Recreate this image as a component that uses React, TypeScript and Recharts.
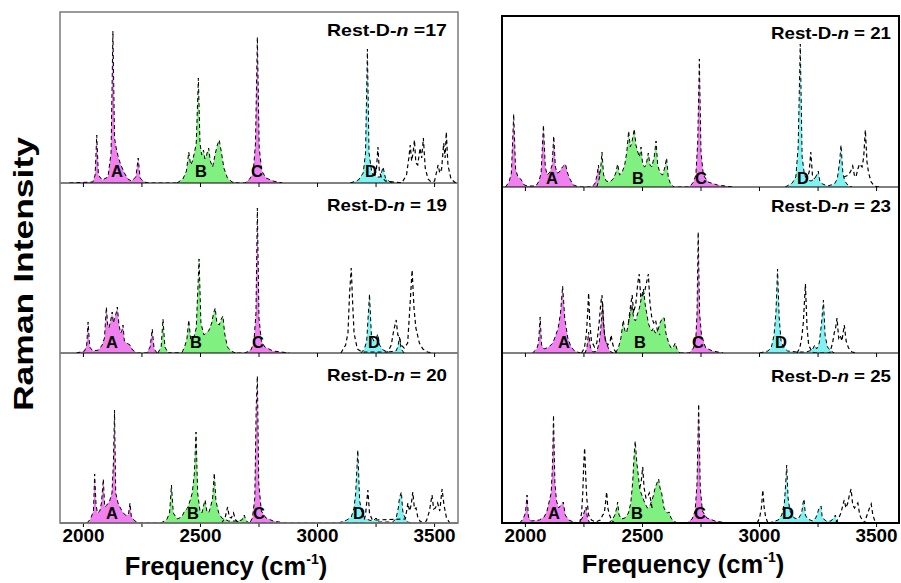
import React from 'react';
import { ComposedChart, Area, Line, XAxis, YAxis } from 'recharts';

type Pt = [number, number | null];

const xTicks = [2000, 2250, 2500, 2750, 3000, 3250, 3500];
const xDomain: [number, number] = [1900, 3600];

// ---------- Rest-D-n = 17 ----------
const n17Magenta: Pt[] = [[1940,0],[2040,1],[2050,8],[2057,48],[2064,8],[2080,3],[2105,6],[2118,30],[2126,152],[2133,45],[2140,35],[2150,25],[2160,18],[2175,10],[2190,4],[2205,2],[2224,6],[2234,25],[2242,5],[2260,1],[2280,0],[2690,0],[2710,4],[2725,10],[2735,40],[2743,146],[2751,35],[2762,12],[2780,5],[2810,2],[2850,0]];
const n17Green: Pt[] = [[2400,0],[2425,4],[2440,12],[2450,31],[2458,18],[2466,22],[2474,30],[2482,40],[2491,105],[2498,40],[2505,28],[2513,33],[2519,24],[2526,28],[2535,35],[2542,22],[2552,16],[2562,28],[2572,38],[2580,43],[2590,30],[2600,15],[2615,5],[2635,1],[2660,0]];
const n17Cyan: Pt[] = [[3140,0],[3175,3],[3195,10],[3205,30],[3213,134],[3220,30],[3232,10],[3250,6],[3268,6],[3280,16],[3290,5],[3310,1],[3330,0]];
const n17Dashed: Pt[] = [[3245,7],[3252,15],[3258,36],[3264,12],[3272,6],[3290,2],[3360,0],[3380,8],[3390,25],[3396,38],[3402,22],[3408,30],[3414,43],[3420,20],[3428,18],[3438,35],[3445,25],[3452,45],[3460,15],[3472,4],[3485,1],[3500,2],[3515,18],[3522,10],[3530,14],[3539,40],[3545,25],[3550,51],[3557,18],[3570,4],[3590,0]];

// ---------- Rest-D-n = 19 ----------
const n19Magenta: Pt[] = [[1970,0],[2005,2],[2014,8],[2020,31],[2027,6],[2040,2],[2065,3],[2080,8],[2090,15],[2098,46],[2104,28],[2109,25],[2116,32],[2123,41],[2128,30],[2133,35],[2140,40],[2145,46],[2152,28],[2159,20],[2164,22],[2169,28],[2175,12],[2185,10],[2199,8],[2210,3],[2230,0],[2270,0],[2285,6],[2294,24],[2302,4],[2315,0],[2690,0],[2715,3],[2728,10],[2737,40],[2743,145],[2750,35],[2760,12],[2775,6],[2810,2],[2880,0]];
const n19Green: Pt[] = [[2318,0],[2332,6],[2340,34],[2348,6],[2362,0],[2420,0],[2432,6],[2442,14],[2450,33],[2458,14],[2470,14],[2482,25],[2494,94],[2502,30],[2515,18],[2535,22],[2548,30],[2556,40],[2563,45],[2570,30],[2580,28],[2589,34],[2596,37],[2603,20],[2615,6],[2630,2],[2650,0]];
const n19Cyan: Pt[] = [[3185,0],[3200,4],[3210,12],[3222,59],[3230,18],[3240,12],[3250,14],[3257,19],[3265,8],[3280,3],[3300,1],[3335,2],[3343,6],[3350,16],[3357,4],[3370,0]];
const n19Dashed: Pt[] = [[3100,0],[3120,8],[3130,20],[3137,60],[3144,85],[3150,50],[3156,20],[3170,4],[3190,1],[3300,1],[3315,8],[3325,22],[3336,33],[3343,18],[3350,16],[3357,8],[3370,5],[3385,10],[3393,40],[3404,83],[3412,45],[3420,25],[3435,10],[3450,4],[3470,1],[3490,0]];

// ---------- Rest-D-n = 20 ----------
const n20Magenta: Pt[] = [[2015,0],[2030,4],[2043,12],[2048,49],[2054,18],[2060,10],[2070,12],[2077,20],[2085,44],[2091,16],[2100,18],[2112,22],[2122,30],[2128,60],[2133,113],[2138,30],[2148,20],[2158,15],[2170,10],[2180,8],[2192,8],[2199,20],[2205,6],[2220,2],[2240,0],[2710,0],[2722,5],[2732,25],[2738,116],[2743,147],[2749,40],[2760,12],[2780,5],[2811,2],[2860,0]];
const n20Green: Pt[] = [[2330,0],[2355,3],[2368,10],[2376,38],[2384,10],[2400,4],[2420,6],[2432,12],[2445,15],[2455,22],[2465,30],[2474,50],[2481,91],[2488,30],[2498,12],[2506,10],[2514,18],[2520,23],[2527,12],[2535,10],[2545,18],[2552,25],[2559,50],[2566,22],[2578,10],[2591,5],[2620,2],[2660,2],[2677,3],[2687,8],[2695,2],[2710,0]];
const n20Cyan: Pt[] = [[3090,0],[3125,3],[3144,6],[3156,15],[3163,30],[3172,73],[3180,22],[3190,10],[3201,5],[3220,3],[3236,2],[3250,5],[3262,1],[3320,1],[3335,4],[3345,15],[3350,25],[3358,31],[3364,12],[3372,6],[3385,1],[3400,0]];
const n20Dashed: Pt[] = [[2590,0],[2605,5],[2616,16],[2623,6],[2632,5],[2641,10],[2650,3],[2665,0],[3195,0],[3205,8],[3215,33],[3222,10],[3232,4],[3245,3],[3375,4],[3386,20],[3393,12],[3400,18],[3407,31],[3414,14],[3421,15],[3428,6],[3440,1],[3465,2],[3478,12],[3489,28],[3496,14],[3503,15],[3513,20],[3522,12],[3532,34],[3540,18],[3551,5],[3565,0]];

// ---------- Rest-D-n = 21 ----------
const n21Magenta: Pt[] = [[1915,0],[1930,5],[1940,14],[1950,73],[1958,18],[1968,10],[1980,8],[1995,2],[2010,1],[2045,1],[2058,6],[2067,14],[2077,62],[2085,20],[2093,12],[2105,15],[2114,22],[2121,51],[2128,20],[2136,14],[2145,15],[2158,20],[2171,23],[2180,14],[2190,8],[2205,2],[2230,0],[2285,0],[2298,4],[2306,12],[2312,22],[2318,8],[2322,3],[2335,0],[2700,0],[2718,5],[2728,12],[2736,45],[2743,128],[2750,35],[2760,12],[2780,5],[2820,2],[2885,0]];
const n21Green: Pt[] = [[2305,0],[2315,8],[2322,20],[2327,35],[2334,12],[2345,6],[2360,5],[2375,8],[2386,14],[2394,23],[2402,12],[2412,14],[2424,22],[2433,35],[2441,56],[2448,40],[2455,45],[2465,58],[2472,42],[2480,35],[2487,30],[2494,40],[2501,22],[2510,20],[2518,25],[2525,34],[2532,22],[2540,20],[2550,30],[2558,46],[2565,22],[2575,14],[2586,12],[2596,20],[2603,29],[2610,10],[2620,3],[2635,0]];
const n21Cyan: Pt[] = [[3110,0],[3140,4],[3155,10],[3165,40],[3174,143],[3182,30],[3192,12],[3205,7],[3220,6],[3235,8],[3244,12],[3251,16],[3258,5],[3270,3],[3290,1],[3320,3],[3332,8],[3342,25],[3348,42],[3356,14],[3364,6],[3380,1],[3395,0]];
const n21Dashed: Pt[] = [[3200,6],[3212,15],[3219,35],[3226,12],[3235,8],[3250,null],[3360,10],[3380,12],[3390,16],[3398,21],[3405,12],[3412,10],[3420,18],[3427,23],[3438,20],[3445,30],[3452,57],[3459,25],[3466,14],[3477,5],[3490,1],[3510,0]];

// ---------- Rest-D-n = 23 ----------
const n23Magenta: Pt[] = [[2030,0],[2048,4],[2056,10],[2063,36],[2069,8],[2080,4],[2100,6],[2117,10],[2130,18],[2140,25],[2150,40],[2159,67],[2168,35],[2181,15],[2195,6],[2210,2],[2235,0],[2255,0],[2263,6],[2270,21],[2278,5],[2290,1],[2305,2],[2315,10],[2322,25],[2330,51],[2337,20],[2345,10],[2360,2],[2375,0],[2700,0],[2718,5],[2728,15],[2733,40],[2738,121],[2744,40],[2752,18],[2770,5],[2800,2],[2845,0]];
const n23Green: Pt[] = [[2385,0],[2398,6],[2408,15],[2418,33],[2425,22],[2432,20],[2444,35],[2455,48],[2462,35],[2470,32],[2480,40],[2487,45],[2495,55],[2504,64],[2512,48],[2518,40],[2525,30],[2532,25],[2540,22],[2546,25],[2555,20],[2565,22],[2575,30],[2585,35],[2593,35],[2600,20],[2612,10],[2622,5],[2630,5],[2640,10],[2647,4],[2660,0]];
const n23Cyan: Pt[] = [[3000,0],[3035,2],[3050,5],[3062,18],[3070,40],[3077,84],[3084,35],[3092,12],[3105,5],[3120,2],[3160,1],[3200,1],[3225,3],[3236,8],[3244,4],[3255,10],[3265,30],[3273,53],[3280,18],[3290,6],[3305,2],[3320,0]];
const n23Dashed: Pt[] = [[2240,0],[2252,5],[2260,18],[2266,40],[2270,60],[2275,30],[2282,12],[2295,6],[2305,10],[2315,30],[2322,50],[2327,58],[2333,30],[2342,12],[2352,8],[2362,12],[2366,18],[2372,10],[2380,3],[2390,0],[2420,null],[2440,30],[2448,45],[2456,58],[2462,40],[2472,50],[2480,70],[2486,79],[2493,55],[2500,58],[2508,60],[2517,70],[2525,79],[2532,50],[2540,35],[2548,30],[2556,33],[2564,22],[2575,18],[2600,null],[3160,0],[3172,5],[3180,15],[3187,30],[3196,69],[3203,25],[3210,8],[3222,2],[3235,0],[3300,0],[3312,10],[3319,20],[3325,25],[3331,35],[3338,15],[3344,18],[3352,12],[3362,28],[3370,12],[3380,5],[3395,1],[3415,0]];

// ---------- Rest-D-n = 25 ----------
const n25Magenta: Pt[] = [[1975,0],[1990,4],[2000,10],[2007,28],[2013,6],[2025,2],[2060,3],[2080,6],[2092,12],[2100,20],[2110,30],[2116,60],[2120,108],[2126,40],[2133,22],[2142,15],[2152,18],[2162,21],[2170,8],[2185,3],[2205,1],[2230,0],[2245,6],[2250,10],[2255,14],[2259,16],[2265,5],[2275,0],[2690,0],[2712,4],[2725,12],[2733,40],[2740,119],[2747,35],[2756,12],[2775,5],[2810,2],[2860,0]];
const n25Green: Pt[] = [[2355,0],[2370,3],[2382,8],[2390,15],[2394,21],[2400,8],[2410,4],[2425,5],[2440,10],[2450,20],[2458,40],[2465,70],[2469,82],[2476,60],[2481,50],[2488,35],[2494,30],[2502,25],[2510,20],[2521,15],[2530,16],[2536,20],[2545,26],[2554,35],[2562,40],[2569,44],[2575,35],[2582,30],[2592,15],[2599,12],[2606,10],[2614,11],[2622,5],[2632,2],[2650,0]];
const n25Cyan: Pt[] = [[3040,0],[3080,3],[3095,8],[3106,20],[3112,40],[3116,58],[3122,25],[3130,12],[3148,5],[3165,4],[3180,10],[3186,20],[3190,24],[3196,8],[3205,4],[3228,2],[3240,5],[3248,10],[3253,14],[3263,17],[3268,5],[3285,2],[3305,2],[3316,5],[3324,8],[3330,2],[3340,0]];
const n25Dashed: Pt[] = [[2232,0],[2240,10],[2245,30],[2249,58],[2253,75],[2258,45],[2262,25],[2270,8],[2282,3],[2300,1],[2320,3],[2330,8],[2337,10],[2343,22],[2347,31],[2352,15],[2359,8],[2368,3],[2380,0],[2420,null],[2488,35],[2494,40],[2501,56],[2507,35],[2515,25],[2522,26],[2529,30],[2536,22],[2541,15],[2600,null],[2990,0],[3000,5],[3008,15],[3014,33],[3020,15],[3026,6],[3036,0],[3200,null],[3325,0],[3340,6],[3348,10],[3356,18],[3362,23],[3369,15],[3377,20],[3384,28],[3391,34],[3398,18],[3406,15],[3413,18],[3420,20],[3428,8],[3434,5],[3448,0],[3455,5],[3462,10],[3470,15],[3477,19],[3484,8],[3491,3],[3505,0]];

const panelLabels = ['17', '19', '20', '21', '23', '25'];

const FONT = "'Liberation Sans', Arial, Helvetica, sans-serif";
const MAGENTA = '#f07ff0';
const GREEN = '#80f080';
const CYAN = '#80f2f2';
const DASH = '4 3';

const rows = (pts: Pt[]) => pts.map(([x, y]) => ({ x, y }));

const makeTick = (show: boolean) => (props: any) => {
  const { x, y, payload } = props;
  if (!show || payload.value % 500 !== 0) return <g />;
  return (
    <text x={x} y={y} dy={13} textAnchor="middle" fontSize={18} fontWeight="bold" fontFamily={FONT} fill="#000" textLength={42} lengthAdjust="spacingAndGlyphs">
      {payload.value}
    </text>
  );
};

interface PanelDef {
  left: number; top: number; plotH: number; bottom: boolean;
  magenta: Pt[]; green: Pt[]; cyan: Pt[]; dashed: Pt[];
}

const panels: PanelDef[] = [
  { left: 60, top: 12, plotH: 171, bottom: false, magenta: n17Magenta, green: n17Green, cyan: n17Cyan, dashed: n17Dashed },
  { left: 60, top: 183, plotH: 170, bottom: false, magenta: n19Magenta, green: n19Green, cyan: n19Cyan, dashed: n19Dashed },
  { left: 60, top: 353, plotH: 170, bottom: true, magenta: n20Magenta, green: n20Green, cyan: n20Cyan, dashed: n20Dashed },
  { left: 502, top: 16, plotH: 171, bottom: false, magenta: n21Magenta, green: n21Green, cyan: n21Cyan, dashed: n21Dashed },
  { left: 502, top: 187, plotH: 166, bottom: false, magenta: n23Magenta, green: n23Green, cyan: n23Cyan, dashed: n23Dashed },
  { left: 502, top: 353, plotH: 170, bottom: true, magenta: n25Magenta, green: n25Green, cyan: n25Cyan, dashed: n25Dashed },
];

const labelPos: [number, number][] = [[447, 36], [447, 211], [447, 381], [891, 39], [891, 212], [891, 382]];
const letterPos: { xs: number[]; y: number }[] = [
  { xs: [117, 201, 257, 371], y: 177 },
  { xs: [112, 196, 258, 374], y: 348 },
  { xs: [112, 193, 259, 359], y: 519 },
  { xs: [552, 638, 701, 803], y: 184 },
  { xs: [564, 640, 698, 781], y: 348 },
  { xs: [554, 637, 700, 788], y: 519 },
];
const letters = ['A', 'B', 'C', 'D'];

function Panel({ p }: { p: PanelDef }) {
  const axisH = p.bottom ? 30 : 6;
  return (
    <div style={{ position: 'absolute', left: p.left, top: p.top }}>
      <ComposedChart width={398} height={p.plotH + axisH} margin={{ top: 0, right: 0, bottom: 0, left: 0 }}>
        <XAxis
          dataKey="x" type="number" domain={xDomain} ticks={xTicks} allowDataOverflow interval={0}
          height={axisH} tickSize={4} tick={makeTick(p.bottom)}
          axisLine={{ stroke: '#000', strokeWidth: 1 }} tickLine={{ stroke: '#000', strokeWidth: 1 }}
        />
        <YAxis type="number" domain={[0, p.plotH]} hide allowDataOverflow />
        <Area data={rows(p.magenta)} dataKey="y" type="linear" fill={MAGENTA} fillOpacity={1} stroke="#000" strokeWidth={1} strokeDasharray={DASH} isAnimationActive={false} />
        <Area data={rows(p.green)} dataKey="y" type="linear" fill={GREEN} fillOpacity={1} stroke="#000" strokeWidth={1} strokeDasharray={DASH} isAnimationActive={false} />
        <Area data={rows(p.cyan)} dataKey="y" type="linear" fill={CYAN} fillOpacity={1} stroke="#000" strokeWidth={1} strokeDasharray={DASH} isAnimationActive={false} />
        <Line data={rows(p.dashed)} dataKey="y" type="linear" stroke="#000" strokeWidth={1.2} strokeDasharray={DASH} dot={false} activeDot={false} connectNulls={false} isAnimationActive={false} />
      </ComposedChart>
    </div>
  );
}

export default function App() {
  return (
    <div style={{ position: 'absolute', left: 0, top: 0, width: 901, height: 583, background: '#fff', overflow: 'hidden' }}>
      {panels.map((p, i) => <Panel key={i} p={p} />)}
      <svg width={901} height={583} style={{ position: 'absolute', left: 0, top: 0, pointerEvents: 'none' }}>
        <rect x={60} y={12} width={398} height={511} fill="none" stroke="#7a7a7a" strokeWidth={1.5} />
        <rect x={502} y={16} width={397} height={507} fill="none" stroke="#000" strokeWidth={2} />
        {panelLabels.map((n, i) => (
          <text key={n} x={labelPos[i][0]} y={labelPos[i][1]} textAnchor="end" fontSize={17} fontWeight="bold" fontFamily={FONT} fill="#000" textLength={120} lengthAdjust="spacingAndGlyphs">
            Rest-D-<tspan fontStyle="italic">n</tspan>{i === 0 ? ' =' : ' = '}{n}
          </text>
        ))}
        {letterPos.map((lp, i) => lp.xs.map((x, j) => (
          <text key={`${i}-${j}`} x={x} y={lp.y} textAnchor="middle" fontSize={16.5} fontWeight="bold" fontFamily={FONT} fill="#000">{letters[j]}</text>
        )))}
        <text transform="translate(33,274) rotate(-90)" textAnchor="middle" fontSize={27} fontWeight="bold" fontFamily={FONT} fill="#000" textLength={274} lengthAdjust="spacingAndGlyphs">Raman Intensity</text>
        <text x={226} y={575} textAnchor="middle" fontSize={25.5} fontWeight="bold" fontFamily={FONT} fill="#000">
          Frequency (cm<tspan fontSize={14} dy={-11}>-1</tspan><tspan dy={11}>)</tspan>
        </text>
        <text x={683} y={573} textAnchor="middle" fontSize={25.5} fontWeight="bold" fontFamily={FONT} fill="#000">
          Frequency (cm<tspan fontSize={14} dy={-11}>-1</tspan><tspan dy={11}>)</tspan>
        </text>
      </svg>
    </div>
  );
}
